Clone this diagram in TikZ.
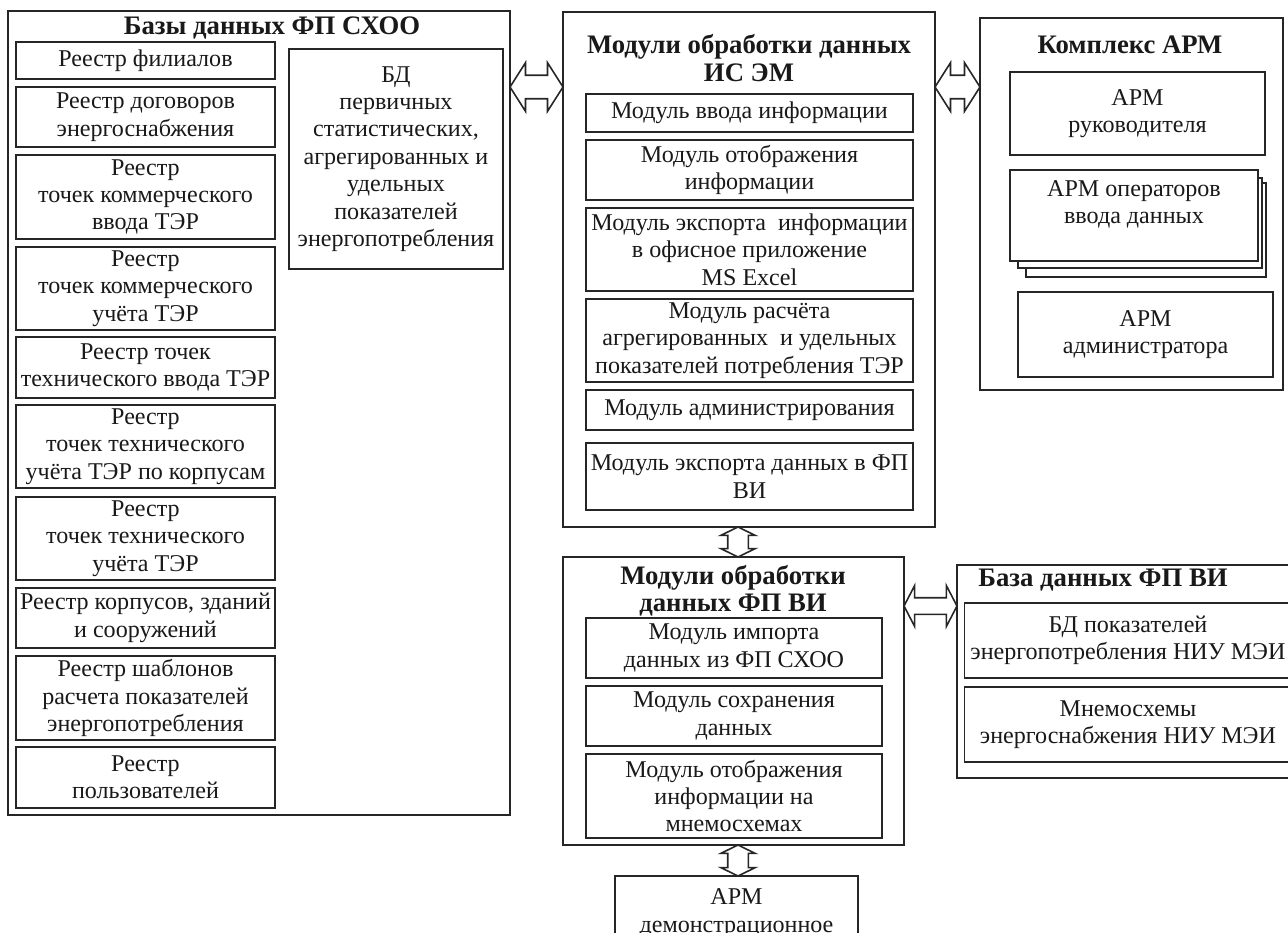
\documentclass[tikz,border=0pt]{standalone}
\usepackage{fontspec}
\setmainfont{Liberation Serif}
\usetikzlibrary{shapes.arrows}

\begin{document}
\begin{tikzpicture}[x=0.02cm, y=-0.02cm,
	panel/.style={draw=black!85, line width=1pt, inner sep=0pt},
	regbox/.style={draw=black!85, line width=1pt, inner sep=0pt, fill=white, align=center, text=black!90, font=\fontsize{13.7}{15.6}\selectfont},
	ttl/.style={align=center, text=black!90, font=\fontsize{15.2}{15.6}\selectfont\bfseries},
	dblarrow/.style={double arrow, draw=black!85, line width=0.9pt, fill=white, inner sep=0pt, inner ysep=0.22cm, double arrow head extend=0.25cm, double arrow tip angle=115},
	vdblarrow/.style={double arrow, draw=black!85, line width=0.9pt, fill=white, inner sep=0pt, inner ysep=0.19cm, double arrow head extend=0.14cm, double arrow tip angle=128, rotate=90}]
			\useasboundingbox (0,0) rectangle (1288,933);
			
			% Draw the outer panels
			\node[panel, minimum width=10.04cm, minimum height=16.08cm] (sxoo) at (259,413) {};
			\node[panel, minimum width=7.44cm, minimum height=10.3cm] (modem) at (749,269.5) {};
			\node[panel, minimum width=6.06cm, minimum height=7.44cm] (arm) at (1131.5,204) {};
			\node[panel, minimum width=6.82cm, minimum height=5.76cm] (modvi) at (733.5,701) {};
			\node[panel, minimum width=6.86cm, minimum height=4.26cm] (dbvi) at (1128.5,671.5) {};
			
			% Label the panels
			\node[ttl] (sxooT) at (272,28) {Базы данных ФП СХОО};
			\node[ttl] (modemT) at (749,58) {Модули обработки данных\\ИС ЭМ};
			\node[ttl] (armT) at (1130,45) {Комплекс АРМ};
			\node[ttl] (modviT) at (733,591) {Модули обработки\\данных ФП ВИ};
			\node[ttl] (dbviT) at (1103,580) {База данных ФП ВИ};
			
			% Draw the registers of the FP SKhOO
			\foreach \ya/\yb/\txt [count=\i] in {
				42/79/{Реестр филиалов},
				87/147/{Реестр договоров\\энергоснабжения},
				155/239/{Реестр\\точек коммерческого\\ввода ТЭР},
				247/330/{Реестр\\точек коммерческого\\учёта ТЭР},
				337/398/{Реестр точек\\технического ввода ТЭР},
				405/488/{Реестр\\точек технического\\учёта ТЭР по корпусам},
				497/580/{Реестр\\точек технического\\учёта ТЭР},
				588/648/{Реестр корпусов, зданий\\и сооружений},
				656/740/{Реестр шаблонов\\расчета показателей\\энергопотребления},
				747/808/{Реестр\\пользователей}}
			\node[regbox, minimum width=5.18cm, minimum height={(\yb-\ya)*0.02cm}] (reg\i) at (145.5,{(\ya+\yb)/2}) {\txt};
			\node[regbox, minimum width=4.28cm, minimum height=4.4cm] (bdpok) at (396,159) {БД\\первичных\\статистических,\\агрегированных и\\удельных\\показателей\\энергопотребления};
			
			% Draw the modules of the IS EM
			\foreach \ya/\yb/\txt [count=\i] in {
				94/132/{Модуль ввода информации},
				140/200/{Модуль отображения\\информации},
				208/291/{Модуль экспорта\ \ информации\\в офисное приложение\\MS Excel},
				299/382/{Модуль расчёта\\агрегированных\ \ и удельных\\показателей потребления ТЭР},
				390/430/{Модуль администрирования},
				443/510/{Модуль экспорта данных в ФП\\ВИ}}
			\node[regbox, minimum width=6.54cm, minimum height={(\yb-\ya)*0.02cm}] (mod\i) at (749.5,{(\ya+\yb)/2}) {\txt};
			
			% Draw the workstations
			\node[regbox, minimum width=5.1cm, minimum height=1.66cm] (armruk) at (1137.5,113.5) {АРМ\\руководителя};
			\node[regbox, minimum width=4.8cm, minimum height=1.88cm] (oper3) at (1146,230) {};
			\node[regbox, minimum width=4.88cm, minimum height=1.8cm] (oper2) at (1140,223) {};
			\node[regbox, minimum width=4.96cm, minimum height=1.82cm] (oper1) at (1134,215.5) {АРМ операторов\\ввода данных\\~};
			\node[regbox, minimum width=5.1cm, minimum height=1.7cm] (armadm) at (1145.5,334.5) {АРМ\\администратора};
			
			% Draw the modules of the FP VI
			\foreach \ya/\yb/\txt [count=\i] in {
				618/678/{Модуль импорта\\данных из ФП СХОО},
				686/746/{Модуль сохранения\\данных},
				754/838/{Модуль отображения\\информации на\\мнемосхемах}}
			\node[regbox, minimum width=5.92cm, minimum height={(\yb-\ya)*0.02cm}] (vi\i) at (734,{(\ya+\yb)/2}) {\txt};
			
			% Draw the FP VI database
			\node[regbox, minimum width=6.54cm, minimum height=1.5cm] (dbpok) at (1128,640.5) {БД показателей\\энергопотребления НИУ МЭИ};
			\node[regbox, minimum width=6.54cm, minimum height=1.5cm] (mnemo) at (1128,724.5) {Мнемосхемы\\энергоснабжения НИУ МЭИ};
			
			% Draw the demo workstation
			\node[regbox, minimum width=4.86cm, minimum height=1.48cm] (armdemo) at (736.5,913) {АРМ\\демонстрационное};
			
			% Draw the links between the panels
			\path (sxoo.east |- 0,87) -- (modem.west |- 0,87) node[midway, dblarrow, minimum height=1.06cm] (lnkA) {};
			\path (modem.east |- 0,87) -- (arm.west |- 0,87) node[midway, dblarrow, minimum height=0.9cm] (lnkB) {};
			\path (modem.south -| 738,0) -- (modvi.north -| 738,0) node[midway, vdblarrow, minimum height=0.6cm] (lnkC) {};
			\path (modvi.east |- 0,606) -- (dbvi.west |- 0,606) node[midway, dblarrow, minimum height=1.06cm, inner ysep=0.15cm, double arrow head extend=0.24cm, double arrow tip angle=125] (lnkD) {};
			\path (modvi.south -| 738,0) -- (armdemo.north -| 738,0) node[midway, vdblarrow, minimum height=0.62cm] (lnkE) {};
		\end{tikzpicture}
\end{document}
